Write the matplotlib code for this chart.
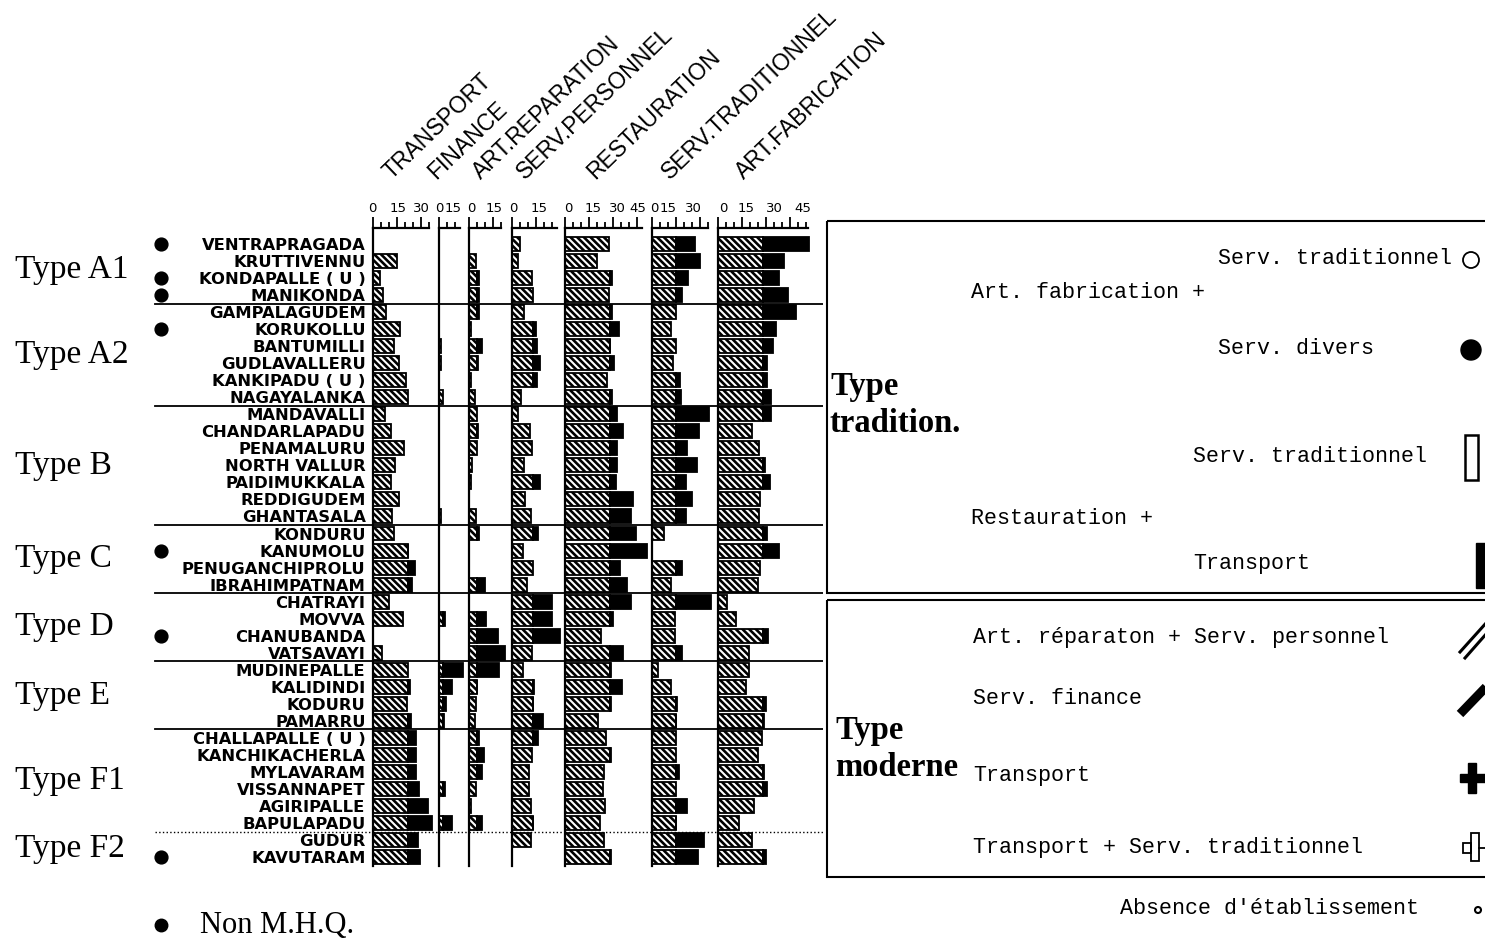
import matplotlib
matplotlib.use('Agg')
import matplotlib.pyplot as plt
import numpy as np
from matplotlib.patches import Rectangle, Circle

# ---------------- data ----------------
villages = ['VENTRAPRAGADA', 'KRUTTIVENNU', 'KONDAPALLE ( U )', 'MANIKONDA',
            'GAMPALAGUDEM', 'KORUKOLLU', 'BANTUMILLI', 'GUDLAVALLERU', 'KANKIPADU ( U )', 'NAGAYALANKA',
            'MANDAVALLI', 'CHANDARLAPADU', 'PENAMALURU', 'NORTH VALLUR', 'PAIDIMUKKALA', 'REDDIGUDEM', 'GHANTASALA',
            'KONDURU', 'KANUMOLU', 'PENUGANCHIPROLU', 'IBRAHIMPATNAM',
            'CHATRAYI', 'MOVVA', 'CHANUBANDA', 'VATSAVAYI',
            'MUDINEPALLE', 'KALIDINDI', 'KODURU', 'PAMARRU',
            'CHALLAPALLE ( U )', 'KANCHIKACHERLA', 'MYLAVARAM', 'VISSANNAPET', 'AGIRIPALLE', 'BAPULAPADU',
            'GUDUR', 'KAVUTARAM']
group_names = ['Type A1', 'Type A2', 'Type B', 'Type C', 'Type D', 'Type E', 'Type F1', 'Type F2']
group_sizes = [4, 6, 7, 4, 4, 4, 6, 2]
non_mhq = ['VENTRAPRAGADA', 'KONDAPALLE ( U )', 'MANIKONDA', 'KORUKOLLU', 'KANUMOLU', 'CHANUBANDA', 'KAVUTARAM']

sectors = ['TRANSPORT', 'FINANCE', 'ART.REPARATION', 'SERV.PERSONNEL', 'RESTAURATION',
           'SERV.TRADITIONNEL', 'ART.FABRICATION']

transport = [0, 15, 4.6, 6.3, 8.3, 17, 13.5, 16.5, 20.8, 21.9, 8, 11.5, 19.6, 14, 11.3, 16.5, 12.3,
             13.5, 22.3, 26.5, 24.8, 10.2, 18.8, 0, 5.8, 21.9, 23.3, 21.5, 24, 27, 27, 27, 29.2, 34.8,
             36.9, 28.5, 29.6]
finance = [0, 0, 0, 0, 0, 0, 1, 1.5, 0, 2.5, 0, 0, 0, 0, 0, 0, 1, 0, 0, 0, 0, 0, 3.5, 0, 0, 15, 7.9,
           4.6, 3.1, 0, 0, 0, 3.5, 0, 8.3, 0, 0]
art_reparation = [0, 4.6, 6.3, 6.3, 6.3, 1, 8.3, 5.6, 1, 4, 4.8, 5.6, 4.8, 2, 1, 0, 4.2, 6.3, 0, 0, 9.8,
                  0, 10.4, 18.3, 22.3, 18.8, 5.2, 4.6, 3.8, 6.3, 9.4, 7.9, 4.6, 1, 7.9, 0, 0]
serv_personnel = [5.2, 4, 12.9, 13, 7.9, 15.2, 16, 17.7, 16, 6, 3.8, 11.5, 12.5, 7.9, 17.7, 8.3, 12,
                  16.3, 7.3, 13.1, 9.4, 25.4, 25.4, 30.2, 12.5, 7, 14, 13.5, 19.8, 16.5, 12.9, 10.8,
                  10.8, 12.3, 13.5, 12.3, 0]
restauration = [27.7, 19.8, 29.6, 27.3, 29.6, 33.5, 28.1, 30.6, 26.5, 29.6, 32.3, 36.5, 32.7, 32.7,
                31.9, 42.7, 41, 44.4, 51.5, 34.4, 38.5, 41, 30.2, 22.3, 36, 28.5, 35.4, 28.5, 20.8,
                25.6, 28.8, 24.6, 23.5, 25, 21.9, 24.6, 28.8]
serv_traditionnel = [27, 30.2, 22.7, 19.2, 15, 12.3, 15, 13.3, 17.7, 18.5, 35.8, 29.6, 22.3, 28.5, 21.3,
                     25.4, 21.7, 7.7, 0, 19.2, 11.9, 36.9, 14.6, 14.6, 18.8, 4.2, 12.1, 16, 15.6, 15,
                     15, 17.3, 15, 21.9, 15.6, 32.9, 29.2]
art_fabrication = [56.7, 41, 37.9, 43.8, 48.3, 35.8, 34, 30.2, 30.2, 32.9, 32.9, 21.3, 25.4, 29.2,
                   32.3, 26, 25.4, 30.6, 38.1, 26, 24.6, 5.2, 11, 30.8, 19.2, 19.2, 17.3, 29.6, 28.8,
                   27, 25, 28.8, 30.2, 22.3, 13.1, 20.8, 29.6]
# level above which the bar turns solid black (per sector)
thresholds = [22, 2.5, 5, 13.3, 28, 15, 28]
axis_ends = [35, 13, 20, 28, 48, 35, 56]
tick_labels = [[(0, '0'), (16, '15'), (30.5, '30')],
               [(0.5, '0'), (8.5, '15')],
               [(1.5, '0'), (15.5, '15')],
               [(1, '0'), (17, '15')],
               [(2, '0'), (17.5, '15'), (33, '30'), (45.5, '45')],
               [(1.5, '0'), (10.5, '15'), (26, '30')],
               [(3, '0'), (17.5, '15'), (35, '30'), (53, '45')]]
series = [transport, finance, art_reparation, serv_personnel, restauration,
          serv_traditionnel, art_fabrication]

# ---------------- layout ----------------
W, H = 1485, 940
fig = plt.figure(figsize=(W / 100, H / 100), dpi=100)
plt.rcParams['hatch.linewidth'] = 1.9


def fa(x0, y0, x1, y1):
    return [x0 / W, 1 - y1 / H, (x1 - x0) / W, (y1 - y0) / H]


PX = 1.6  # pixels per unit
zeros = [372.5, 439, 469, 511.7, 565, 651.5, 718.3]
right_edge = 823
header_x = [392, 436, 481, 525, 595, 670, 744]
Y_TOP, Y_BOT = 228, 866
ROW0, DY = 244, 17.03
ylo = (Y_TOP - ROW0) / DY
yhi = (Y_BOT - ROW0) / DY
rows = np.arange(len(villages))

# separators (between groups)
bounds = np.cumsum(group_sizes)[:-1] - 0.5
sep_styles = ['-'] * (len(bounds) - 1) + [':']

ov = fig.add_axes([0, 0, 1, 1], zorder=0)
ov.set_xlim(0, W)
ov.set_ylim(H, 0)
ov.axis('off')

# left area: group labels and Non-MHQ dots
la = fig.add_axes(fa(0, Y_TOP, zeros[0], Y_BOT), zorder=1)
la.set_xlim(0, zeros[0])
la.set_ylim(yhi, ylo)
la.axis('off')
start = 0
for name, n in zip(group_names, group_sizes):
    la.text(15, start + (n - 1) / 2, name, ha='left', va='center',
            family='Liberation Serif', fontsize=24)
    start += n
nm_idx = [villages.index(v) for v in non_mhq]
la.scatter([161] * len(nm_idx), nm_idx, s=85, color='black', zorder=3)
for b, ls in zip(bounds, sep_styles):
    la.axhline(b, xmin=155 / zeros[0], xmax=1, color='black', lw=1.3 if ls == '-' else 1.0, ls=ls)

for i, (vals, thr) in enumerate(zip(series, thresholds)):
    x0 = zeros[i]
    x1 = zeros[i + 1] if i < len(zeros) - 1 else right_edge
    ax = fig.add_axes(fa(x0, Y_TOP, x1, Y_BOT), zorder=2)
    ax.patch.set_alpha(0)
    ax.set_xlim(0, (x1 - x0) / PX)
    ax.set_ylim(yhi, ylo)
    v = np.array(vals, dtype=float)
    m = v > 0
    ax.barh(rows[m], np.minimum(v, thr)[m], height=0.82, color='white', edgecolor='black',
            hatch='\\\\\\\\\\', linewidth=1.3, zorder=2)
    e = v > thr
    ax.barh(rows[e], (v - thr)[e], left=thr, height=0.82, color='black', edgecolor='black',
            linewidth=1.3, zorder=2)
    for b, ls in zip(bounds, sep_styles):
        ax.axhline(b, color='black', lw=1.3 if ls == '-' else 1.0, ls=ls, zorder=1)
    for s in ['right', 'bottom']:
        ax.spines[s].set_visible(False)
    ax.spines['left'].set_linewidth(1.6)
    ax.spines['top'].set_linewidth(1.6)
    ax.spines['top'].set_bounds(0, axis_ends[i])
    ax.xaxis.set_ticks_position('top')
    ax.set_xticks(np.arange(0, axis_ends[i] + 0.01, 15))
    ax.set_xticks(np.arange(0, axis_ends[i] + 0.01, 5), minor=True)
    ax.tick_params(axis='x', which='major', length=8, width=1.3, direction='out',
                   labeltop=False, labelbottom=False)
    ax.tick_params(axis='x', which='minor', length=4, width=1.3, direction='out')
    if i == 0:
        ax.set_yticks(rows)
        ax.set_yticklabels(villages, family='DejaVu Sans', fontweight='bold', fontsize=11.8)
        ax.tick_params(axis='y', length=0, pad=5)
    else:
        ax.set_yticks([])
    for p, s in tick_labels[i]:
        ov.text(x0 + p * PX, 208, s, ha='center', va='center', fontsize=9.5,
                family='DejaVu Sans')
    ov.text(header_x[i], 180, sectors[i], rotation=44, rotation_mode='anchor',
            ha='left', va='baseline', family='Liberation Sans', fontsize=16.5)

# ---------------- legend ----------------
ov.add_patch(Rectangle((827, 221), 800, 372, fill=False, lw=1.5, ec='black'))
ov.add_patch(Rectangle((827, 600), 800, 277, fill=False, lw=1.5, ec='black'))
bold = dict(family='Liberation Serif', fontweight='bold', fontsize=23.5, ha='left', va='center')
ov.text(830, 387, 'Type', **bold)
ov.text(830, 424, 'tradition.', **bold)
ov.text(835, 730, 'Type', **bold)
ov.text(835, 768, 'moderne', **bold)

mono = dict(family='Liberation Mono', fontsize=15.6, ha='left', va='center')
legend_entries = [(1218, 258, 'Serv. traditionnel'), (971, 293, 'Art. fabrication +'),
                  (1218, 348, 'Serv. divers'), (1193, 457, 'Serv. traditionnel'),
                  (971, 518, 'Restauration +'), (1193, 564, 'Transport'),
                  (973, 638, 'Art. réparaton + Serv. personnel'), (973, 698, 'Serv. finance'),
                  (973, 776, 'Transport'), (973, 847, 'Transport + Serv. traditionnel'),
                  (1120, 908, "Absence d'établissement")]
for x, y, s in legend_entries:
    ov.text(x, y, s, **mono)

ov.add_patch(Circle((1471, 260), 8, fill=False, lw=1.3, ec='black'))
ov.add_patch(Circle((1471, 350), 10, color='black'))
ov.add_patch(Rectangle((1465, 435), 13, 45, fill=False, lw=1.8, ec='black'))
ov.add_patch(Rectangle((1476, 543), 12, 45, color='black'))
ov.plot([1460, 1487], [652, 622], color='black', lw=2.2)
ov.plot([1465, 1487], [658, 633], color='black', lw=2.2)
ov.plot([1460, 1487], [714, 686], color='black', lw=6.5, solid_capstyle='butt')
ov.add_patch(Rectangle((1460, 774), 27, 8, color='black'))
ov.add_patch(Rectangle((1468, 763), 8, 30, color='black'))
ov.add_patch(Rectangle((1463, 843), 8, 10, fill=False, lw=1.3, ec='black'))
ov.add_patch(Rectangle((1471, 833), 8, 28, fill=False, lw=1.3, ec='black'))
ov.plot([1479, 1487], [848, 848], color='black', lw=1.3)
ov.add_patch(Circle((1478, 910), 3, fill=False, lw=1.5, ec='black'))

ov.plot([161], [925], 'o', color='black', ms=9)
ov.text(200, 925, 'Non M.H.Q.', ha='left', va='center', family='Liberation Serif', fontsize=22)

fig.savefig('out.png', dpi=100)
